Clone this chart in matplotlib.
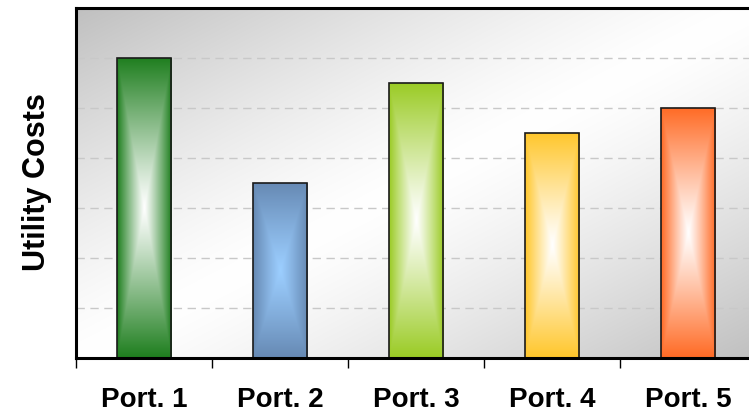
import numpy as np
import matplotlib
matplotlib.use("Agg")
import matplotlib.pyplot as plt
from matplotlib.colors import to_rgb

categories = ["Port. 1", "Port. 2", "Port. 3", "Port. 4", "Port. 5"]
values = [6.0, 3.5, 5.5, 4.5, 5.0]
edge_colors = ["#1E7E1E", "#6689B3", "#9ACB24", "#FFC62A", "#FF6A24"]
center_colors = ["#FFFFFF", "#9CCEFF", "#FFFFFF", "#FFFFFF", "#FFFFFF"]
y_label = "Utility Costs"

plt.rcParams['font.family'] = ['Liberation Sans', 'DejaVu Sans']

W, H = 749, 415
fig = plt.figure(figsize=(W / 100, H / 100), dpi=100)
left, right, top, bottom = 76, 756, 8, 358
ax = fig.add_axes([left / W, (H - bottom) / H, (right - left) / W, (bottom - top) / H])

n = len(categories)
x = np.arange(n)

# background diagonal gradient (gray - white - gray)
gx, gy = np.meshgrid(np.linspace(0, 1, 400), np.linspace(0, 1, 400))
u = (gx + gy) / 2.0  # gy=0 at top (origin upper)
d = np.abs(u - 0.5) * 2
g = 1.0 - 0.25 * d ** 1.3
bg = np.dstack([g, g, g])
ax.imshow(bg, extent=[0, 1, 0, 1], transform=ax.transAxes, origin="upper",
          aspect="auto", zorder=0, interpolation="bilinear")

# grid lines
for yv in range(1, 7):
    ax.axhline(yv, color="#c8c8c8", lw=1.0, dashes=(6, 4), zorder=1)

bars = ax.bar(x, values, width=0.4, color="none", edgecolor="#1a1a1a",
              lw=1.2, zorder=3)

for bar, ec, cc in zip(bars, edge_colors, center_colors):
    bx, by = bar.get_x(), bar.get_y()
    bw, bh = bar.get_width(), bar.get_height()
    nx, ny = 120, 400
    xx, yy = np.meshgrid(np.linspace(-1, 1, nx), np.linspace(-1, 1, ny))
    t = np.maximum(np.abs(xx), np.abs(yy))
    f = np.clip(t, 0, 1) ** 1.1
    c0 = np.array(to_rgb(cc))
    c1 = np.array(to_rgb(ec))
    img = c0[None, None, :] * (1 - f[..., None]) + c1[None, None, :] * f[..., None]
    im = ax.imshow(img, extent=[bx, bx + bw, by, by + bh], aspect="auto",
                   zorder=2, interpolation="bilinear")
    im.set_clip_path(bar)

ax.set_xlim(-0.5, n - 0.5)
ax.set_ylim(0, 7)

for s in ["left", "top", "bottom", "right"]:
    ax.spines[s].set_linewidth(2.2)
    ax.spines[s].set_color("black")
    ax.spines[s].set_zorder(5)

ax.set_yticks([])
ax.set_xticks(x)
ax.set_xticklabels(categories, fontsize=20, fontweight="bold")
ax.tick_params(axis="x", which="major", length=0, pad=21)
ax.set_xticks(np.arange(n + 1) - 0.5, minor=True)
ax.tick_params(axis="x", which="minor", length=7, width=1.0, color="black")

fig.text(37 / W, 1 - 182 / H, y_label, rotation=90, fontsize=22,
         fontweight="bold", ha="center", va="center")

fig.savefig("out.png", dpi=100)
